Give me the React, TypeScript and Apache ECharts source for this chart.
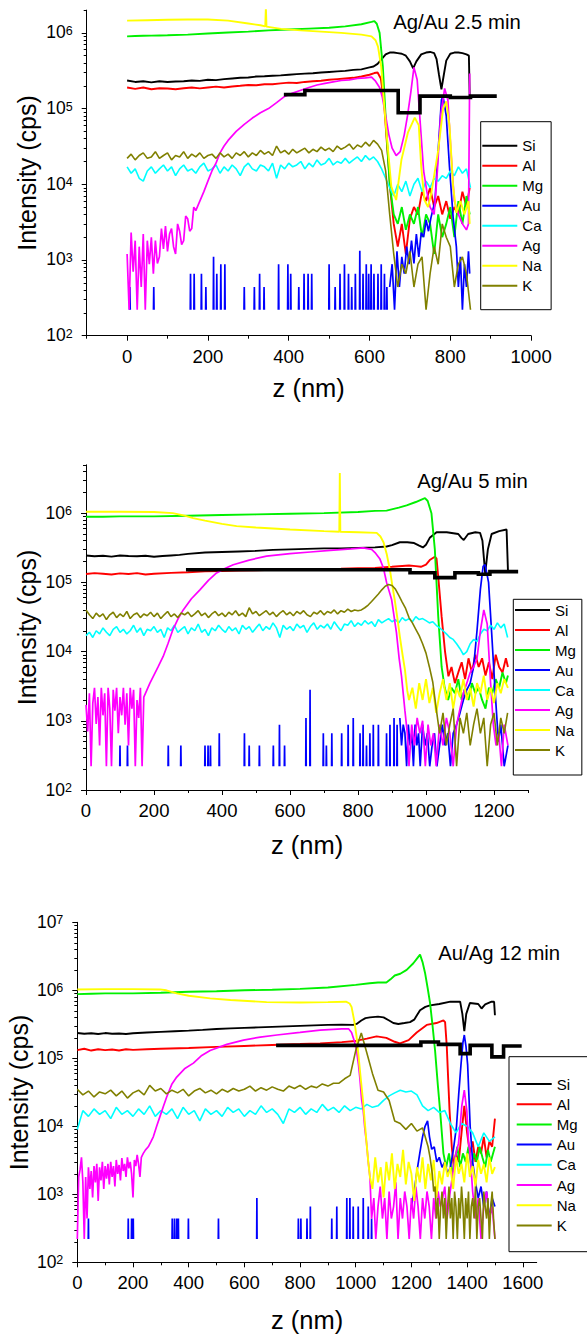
import React, { useEffect, useRef } from 'react';
import * as echarts from 'echarts';

type Pt = [number, number];

const FONT = '"Liberation Sans", Arial, Helvetica, sans-serif';
const NAMES = ['Si', 'Al', 'Mg', 'Au', 'Ca', 'Ag', 'Na', 'K'];
const COLORS: Record<string, string> = {
  Si: '#000000', Al: '#ff0000', Mg: '#00f000', Au: '#0000ff',
  Ca: '#00ffff', Ag: '#ff00ff', Na: '#ffff00', K: '#808000',
};
const FLOOR = 220; // one count level

const TITLES = ['Ag/Au 2.5 min', 'Ag/Au 5 min', 'Au/Ag 12 min'];
const X_NAME = 'z (nm)';
const Y_NAME = 'Intensity (cps)';

const X_MIN = [-100, 0, 0];
const X_MAX = [1000, 1300, 1650];
const Y_MAX = [2e6, 5e6, 1e7];
const X_MAJOR = [
  [0, 200, 400, 600, 800, 1000],
  [0, 200, 400, 600, 800, 1000, 1200],
  [0, 200, 400, 600, 800, 1000, 1200, 1400, 1600],
];
const X_MINOR = [
  [-100, 100, 300, 500, 700, 900],
  [100, 300, 500, 700, 900, 1100, 1300],
  [100, 300, 500, 700, 900, 1100, 1300, 1500],
];
const Y_DECADES = [1e2, 1e3, 1e4, 1e5, 1e6, 1e7];
const Y_MANTISSAS = [2, 3, 4, 5, 6, 7, 8, 9];

// ---------------- Panel 1 : Ag/Au 2.5 min ----------------
const Z1 = [0,10,20,30,40,50,60,70,80,90,100,110,120,130,140,150,160,170,180,190,200,210,220,230,240,250,260,270,280,290,300,310,320,330,340,350,360,370,380,390,400,410,420,430,440,450,460,470,480,490,500,510,520,530,540,550,560,570,580,590,600,610,620,630,640,650,660,670,680,690,700,710,720,730,740,750,760,770,780,790,800,810,820,830,840,850];
const CA1 = [1.7e4,1.4e4,1.6e4,1.2e4,1.1e4,1.5e4,1.7e4,1.4e4,1.6e4,1.8e4,
  1.5e4,1.7e4,1.3e4,1.6e4,1.8e4,1.5e4,1.6e4,1.4e4,1.7e4,1.9e4,
  1.5e4,1.6e4,1.8e4,1.4e4,1.7e4,1.5e4,1.8e4,1.6e4,1.3e4,1.7e4,
  1.9e4,1.6e4,1.5e4,1.8e4,1.7e4,1.5e4,1.9e4,1.2e4,1.8e4,1.6e4,
  1.9e4,1.7e4,1.8e4,2.0e4,1.6e4,1.9e4,1.7e4,2.1e4,1.8e4,1.9e4,
  2.2e4,1.8e4,2.0e4,1.9e4,2.2e4,1.9e4,2.1e4,2.3e4,2.0e4,2.4e4,
  2.1e4,2.3e4,2.0e4,1.6e4,1.2e4,9e3,7e3,1.0e4,8e3,1.1e4,
  7e3,1.0e4,1.2e4,8e3,1.1e4,9e3,1.2e4,1.1e4,1.3e4,1.2e4,
  1.5e4,1.3e4,1.7e4,1.4e4,1.6e4,9e3];
const K1 = [2.2e4,2.5e4,2.1e4,2.4e4,2.6e4,2.2e4,2.3e4,2.7e4,2.2e4,2.4e4,
  2.6e4,2.1e4,2.4e4,2.3e4,2.7e4,2.2e4,2.5e4,2.3e4,2.6e4,2.2e4,
  2.4e4,2.5e4,2.2e4,2.6e4,2.3e4,2.5e4,2.2e4,2.6e4,2.4e4,2.7e4,
  2.3e4,2.6e4,2.4e4,2.8e4,2.5e4,2.7e4,2.4e4,3.2e4,2.6e4,2.8e4,
  2.5e4,2.9e4,2.6e4,2.8e4,3.0e4,2.6e4,2.9e4,2.7e4,3.1e4,2.8e4,
  3.0e4,2.7e4,3.2e4,2.9e4,3.1e4,3.4e4,2.9e4,3.3e4,3.1e4,3.6e4,
  3.2e4,3.8e4,3.4e4,2.8e4,1.5e4,4e3,1.2e3,440,880,660,
  1.3e3,440,880,1.1e3,220,660,1.5e3,880,3e3,2e3,
  1.5e3,440,880,1.1e3,660,220];
const SI1: Pt[] = [[0,2.35e5],[20,2.25e5],[40,2.3e5],[60,2.22e5],[80,2.3e5],[100,2.25e5],[120,2.28e5],[140,2.3e5],[160,2.35e5],[180,2.32e5],[200,2.4e5],[220,2.38e5],[240,2.45e5],[260,2.5e5],[280,2.55e5],[300,2.58e5],[320,2.65e5],[340,2.68e5],[360,2.72e5],[380,2.75e5],[400,2.8e5],[420,2.85e5],[440,2.9e5],[460,2.93e5],[480,3.0e5],[500,3.05e5],[520,3.1e5],[540,3.15e5],[560,3.25e5],[580,3.3e5],[600,3.5e5],[610,3.6e5],[620,3.9e5],[630,4.5e5],[640,5.2e5],[650,5.5e5],[660,5.5e5],[670,5.4e5],[680,5.3e5],[690,5.0e5],[700,4.2e5],[708,3.4e5],[716,4.2e5],[728,5.2e5],[740,5.5e5],[750,5.6e5],[760,5.4e5],[766,4.5e5],[772,2.8e5],[778,1.8e5],[784,2.8e5],[790,4.3e5],[800,5.3e5],[810,5.5e5],[820,5.5e5],[830,5.4e5],[840,5.2e5],[846,5.0e5],[848,1.45e5]];
const AL1: Pt[] = [[0,1.9e5],[20,1.82e5],[40,1.9e5],[60,1.8e5],[80,1.86e5],[100,1.84e5],[120,1.8e5],[140,1.86e5],[160,1.9e5],[180,1.85e5],[200,1.9e5],[220,1.95e5],[240,1.9e5],[260,1.96e5],[280,2.0e5],[300,2.05e5],[320,2.03e5],[340,2.1e5],[360,2.1e5],[380,2.15e5],[400,2.2e5],[420,2.18e5],[440,2.25e5],[460,2.3e5],[480,2.33e5],[500,2.4e5],[520,2.45e5],[540,2.5e5],[560,2.55e5],[580,2.65e5],[600,2.8e5],[612,2.95e5],[620,3.0e5],[628,2.5e5],[636,1.2e5],[644,3e4],[652,8e3],[660,3e3],[670,1.5e3],[680,3e3],[690,1.2e3],[700,3.5e3],[710,5e3],[720,4e3],[730,8e3],[740,6e3],[750,9e3],[760,5e3],[770,7e3],[780,4e3],[790,6e3],[800,3.5e3],[810,5e3],[820,4e3],[830,8e3],[840,5e3],[848,9e3]];
const MG1: Pt[] = [[0,9e5],[20,9.1e5],[40,9.15e5],[60,9.2e5],[80,9.25e5],[100,9.3e5],[150,9.5e5],[200,9.8e5],[250,1.01e6],[300,1.04e6],[350,1.08e6],[400,1.11e6],[450,1.14e6],[500,1.17e6],[540,1.22e6],[580,1.3e6],[605,1.4e6],[612,1.43e6],[618,1.32e6],[625,1.0e6],[633,3.6e5],[642,5e4],[650,1e4],[660,4e3],[670,3e3],[680,5e3],[690,2.5e3],[700,4e3],[710,3e3],[720,5e3],[730,2e3],[740,4e3],[750,3e3],[760,1.2e3],[770,4e3],[780,2e3],[790,3e3],[800,5e3],[810,2e3],[820,6e3],[830,3e3],[840,7e3],[848,4e3]];
const NA1: Pt[] = [[0,1.45e6],[50,1.47e6],[100,1.49e6],[150,1.5e6],[200,1.5e6],[250,1.45e6],[300,1.33e6],[330,1.26e6],[342,1.22e6],[343.5,2.2e6],[345,1.21e6],[381,1.13e6],[430,1.08e6],[480,1.04e6],[530,1.0e6],[580,9.5e5],[605,9e5],[615,8e5],[621,6.6e5],[629,3.6e5],[637,1e5],[646,2.8e4],[654,9.3e3],[666,6.2e3],[679,2.1e4],[695,4.8e4],[712,7.6e4],[722,6e4],[728,1.7e4],[736,6.2e3],[745,5e3],[753,7.6e3],[770,2.8e4],[782,9.8e4],[790,1.25e5],[798,6e4],[807,9.3e3],[815,4.2e3],[825,6e3],[835,4e3],[845,6e3],[848,3e3]];
const AG1: Pt[] = [[0,1.2e3],[5,220],[10,2.3e3],[15,700],[20,1.8e3],[25,220],[30,1.5e3],[35,440],[40,2.2e3],[45,220],[50,1.8e3],[55,880],[60,2e3],[65,660],[70,1.8e3],[75,900],[80,1.1e3],[85,2.6e3],[90,1.4e3],[95,2.8e3],[100,1.3e3],[105,2.2e3],[110,2.6e3],[115,1.5e3],[120,1.2e3],[125,3e3],[130,2.4e3],[135,1.6e3],[140,1.8e3],[145,3.8e3],[150,3.5e3],[155,2.4e3],[160,2.6e3],[165,5e3],[170,4.5e3],[180,6e3],[190,8e3],[200,1.1e4],[210,1.5e4],[220,1.9e4],[230,2.6e4],[240,3.2e4],[250,3.8e4],[270,5e4],[290,6.2e4],[310,7.5e4],[330,8.8e4],[350,1.0e5],[370,1.2e5],[390,1.45e5],[410,1.6e5],[430,1.75e5],[450,1.9e5],[470,2.05e5],[490,2.15e5],[510,2.25e5],[530,2.35e5],[550,2.4e5],[570,2.5e5],[590,2.55e5],[605,2.6e5],[615,2.3e5],[625,1.9e5],[632,1.4e5],[640,8e4],[648,4.5e4],[656,3e4],[666,2.4e4],[676,2.7e4],[686,4.5e4],[694,8e4],[702,1.6e5],[710,3.5e5],[718,2.4e5],[726,6e4],[734,1.5e4],[742,8e3],[750,5e3],[760,4e3],[768,1.5e4],[776,8e4],[786,1.85e5],[794,1.3e5],[802,2.5e4],[810,6e3],[820,4e3],[830,3e3],[840,2.5e3],[845,3e3],[848,2.9e5]];
const AU1_SPIKES: Pt[] = [[7,440],[66,440],[157,660],[166,660],[184,660],[195,440],[214,1100],[222,660],[232,880],[242,880],[290,440],[315,440],[328,660],[339,440],[375,880],[398,880],[405,660],[425,440],[438,660],[448,660],[457,660],[500,880],[515,440],[527,660],[538,880],[548,660],[556,440],[565,660],[576,1320],[584,660],[592,880],[598,660],[604,880],[611,660],[621,660],[629,880],[637,660],[643,440]];
const AU1_TAIL: Pt[] = [[650,440],[656,880],[662,220],[668,1.3e3],[674,440],[680,1.1e3],[686,660],[692,1.5e3],[698,880],[704,1.8e3],[710,900],[716,2.2e3],[722,1.1e3],[728,2.3e3],[734,2e3],[740,3.4e3],[746,2.4e3],[752,3.6e3],[762,6e3],[770,2.8e4],[778,1.3e5],[782,1.45e5],[790,8e4],[798,1.7e4],[807,3.7e3],[815,1.5e3],[820,440],[825,1.1e3],[830,220],[835,880],[840,440],[845,1.3e3],[848,660]];
const THICK1: Pt[] = [[388,1.53e5],[440,1.53e5],[440,1.73e5],[671,1.73e5],[671,8.8e4],[725,8.8e4],[725,1.46e5],[800,1.46e5],[800,1.4e5],[850,1.4e5],[850,1.46e5],[915,1.46e5]];

// ---------------- Panel 2 : Ag/Au 5 min ----------------
const Z2 = [0,10,20,30,40,50,60,70,80,90,100,110,120,130,140,150,160,170,180,190,200,210,220,230,240,250,260,270,280,290,300,310,320,330,340,350,360,370,380,390,400,410,420,430,440,450,460,470,480,490,500,510,520,530,540,550,560,570,580,590,600,610,620,630,640,650,660,670,680,690,700,710,720,730,740,750,760,770,780,790,800,810,820,830,840,850,860,870,880,890,900,910,920,930,940,950,960,970,980,990,1000,1010,1020,1030,1040,1050,1060,1070,1080,1090,1100,1110,1120,1130,1140,1150,1160,1170,1180,1190,1200,1210,1220,1230,1240];
const CA2 = [1.7e4,1.9e4,1.6e4,2.0e4,1.8e4,2.2e4,1.9e4,1.7e4,2.1e4,2.3e4,
  1.9e4,2.1e4,1.8e4,2.0e4,2.4e4,1.9e4,2.2e4,1.7e4,2.1e4,2.0e4,
  2.3e4,1.9e4,2.1e4,1.6e4,2.2e4,2.0e4,2.4e4,1.9e4,2.1e4,2.3e4,
  1.8e4,2.2e4,2.0e4,2.5e4,1.9e4,2.1e4,1.7e4,2.2e4,2.0e4,2.4e4,
  2.1e4,1.9e4,2.3e4,2.0e4,2.2e4,1.8e4,2.4e4,2.1e4,2.3e4,1.9e4,
  2.2e4,2.5e4,2.0e4,2.3e4,2.1e4,2.6e4,2.2e4,1.6e4,2.4e4,2.1e4,
  2.3e4,2.0e4,2.5e4,2.2e4,2.4e4,1.9e4,2.3e4,2.6e4,2.1e4,2.4e4,
  2.2e4,2.5e4,2.1e4,2.7e4,2.3e4,2.0e4,2.5e4,2.4e4,2.8e4,2.3e4,
  2.6e4,2.4e4,2.8e4,2.5e4,2.7e4,2.3e4,2.9e4,2.6e4,2.8e4,3.0e4,
  2.7e4,2.9e4,2.6e4,3.1e4,2.8e4,3.0e4,2.7e4,3.2e4,2.9e4,3.0e4,
  2.8e4,2.6e4,2.7e4,2.4e4,2.2e4,2.0e4,1.8e4,1.6e4,1.5e4,1.3e4,
  1.1e4,9e3,1.0e4,1.3e4,1.5e4,1.4e4,1.8e4,2.1e4,2.0e4,2.4e4,
  2.1e4,2.6e4,2.2e4,2.5e4,1.6e4];
const K2 = [4.0e4,3.4e4,3.0e4,3.6e4,3.2e4,3.5e4,2.9e4,3.4e4,3.7e4,3.1e4,
  3.5e4,3.2e4,3.8e4,3.0e4,3.4e4,3.6e4,3.1e4,3.5e4,3.3e4,3.7e4,
  3.2e4,3.6e4,3.0e4,3.4e4,3.8e4,3.2e4,3.5e4,3.1e4,3.6e4,3.4e4,
  3.7e4,3.2e4,3.5e4,3.9e4,3.3e4,3.6e4,3.1e4,3.5e4,3.8e4,3.3e4,
  3.6e4,3.2e4,3.7e4,3.4e4,3.9e4,3.3e4,3.6e4,3.2e4,4.3e4,3.5e4,
  3.8e4,3.3e4,3.6e4,3.9e4,3.4e4,3.7e4,3.2e4,3.6e4,3.9e4,3.4e4,
  3.7e4,3.3e4,3.8e4,3.5e4,3.9e4,3.4e4,3.2e4,3.7e4,3.5e4,3.9e4,
  3.4e4,3.8e4,3.6e4,4.0e4,3.5e4,3.9e4,3.7e4,4.1e4,3.8e4,4.0e4,
  3.9e4,4.0e4,4.3e4,4.7e4,5.3e4,6.0e4,6.8e4,7.8e4,8.8e4,9.3e4,
  9.0e4,8.0e4,6.5e4,5.2e4,4.2e4,3.1e4,2.6e4,2.1e4,1.7e4,1.3e4,
  9.5e3,6e3,3.6e3,1.5e3,660,1.3e3,440,880,1.5e3,220,
  1.1e3,660,1.3e3,440,880,1.5e3,660,1.1e3,220,880,
  1.3e3,440,1.1e3,660,1.3e3];
const SI2: Pt[] = [[0,2.45e5],[25,2.38e5],[50,2.42e5],[75,2.36e5],[100,2.45e5],[125,2.4e5],[150,2.38e5],[175,2.42e5],[200,2.35e5],[225,2.4e5],[250,2.45e5],[275,2.5e5],[300,2.58e5],[350,2.7e5],[400,2.75e5],[450,2.8e5],[500,2.85e5],[550,2.95e5],[600,3.0e5],[650,3.05e5],[700,3.1e5],[750,3.1e5],[800,3.15e5],[850,3.2e5],[884,3.3e5],[900,3.45e5],[923,3.8e5],[945,3.8e5],[965,3.7e5],[980,3.4e5],[991,3.2e5],[1000,3.5e5],[1011,4.4e5],[1031,5.3e5],[1061,5.3e5],[1095,5.0e5],[1104,4.4e5],[1111,4.1e5],[1124,5.0e5],[1145,5.3e5],[1159,5.2e5],[1166,4e5],[1174,1.35e5],[1182,3e5],[1193,5.0e5],[1215,5.5e5],[1237,5.8e5],[1241,1.5e5]];
const AL2: Pt[] = [[0,1.32e5],[25,1.36e5],[50,1.33e5],[75,1.3e5],[100,1.35e5],[125,1.32e5],[150,1.36e5],[175,1.3e5],[200,1.33e5],[250,1.37e5],[300,1.4e5],[350,1.44e5],[400,1.46e5],[450,1.48e5],[500,1.5e5],[550,1.52e5],[600,1.53e5],[650,1.55e5],[700,1.55e5],[750,1.57e5],[800,1.6e5],[850,1.62e5],[900,1.68e5],[950,1.75e5],[970,1.72e5],[985,1.68e5],[1000,1.8e5],[1011,2.1e5],[1026,2.35e5],[1031,2.2e5],[1036,1.2e5],[1046,3.2e4],[1056,1e4],[1066,4.4e3],[1075,6e3],[1085,3.5e3],[1095,5e3],[1105,7e3],[1115,4e3],[1125,8e3],[1135,5e3],[1145,9e3],[1155,6e3],[1165,8e3],[1175,4.5e3],[1185,7e3],[1195,4e3],[1205,9e3],[1215,6e3],[1225,5e3],[1235,8e3],[1241,6e3]];
const MG2: Pt[] = [[0,8.9e5],[50,8.9e5],[100,9.0e5],[200,9.0e5],[300,9.2e5],[400,9.4e5],[500,9.6e5],[600,9.8e5],[700,1.0e6],[800,1.04e6],[850,1.08e6],[884,1.09e6],[920,1.2e6],[943,1.3e6],[970,1.45e6],[990,1.6e6],[997,1.65e6],[1005,1.5e6],[1016,1.0e6],[1026,3e5],[1036,3.2e4],[1046,6e3],[1055,3e3],[1065,2e3],[1075,3e3],[1085,2.5e3],[1095,4e3],[1105,2e3],[1115,3e3],[1125,2e3],[1135,3.5e3],[1145,2.5e3],[1155,3e3],[1165,2e3],[1175,1.5e3],[1185,3e3],[1195,2.5e3],[1205,4e3],[1215,3e3],[1225,5e3],[1235,3.5e3],[1241,4.5e3]];
const NA2: Pt[] = [[0,1.05e6],[100,1.05e6],[200,1.04e6],[255,1.0e6],[290,9.2e5],[315,8.5e5],[350,7.8e5],[400,7e5],[443,6.5e5],[500,6.2e5],[600,5.8e5],[700,5.5e5],[745,5.4e5],[746.5,3.8e6],[748,5.4e5],[800,5.3e5],[855,5.2e5],[866,4.6e5],[875,3.8e5],[885,2.5e5],[894,1.5e5],[901,9e4],[908,5.6e4],[916,3e4],[923,1.66e4],[931,9e3],[938,5.5e3],[945,2.7e3],[950,2e3],[960,3e3],[970,1.5e3],[980,3.5e3],[990,2e3],[1000,4e3],[1010,1.8e3],[1020,3e3],[1030,1.3e3],[1040,2.5e3],[1050,4e3],[1060,2e3],[1070,3.5e3],[1080,1.5e3],[1090,3e3],[1100,2.2e3],[1110,4e3],[1120,2e3],[1130,3e3],[1140,1.6e3],[1150,3.5e3],[1160,2.5e3],[1170,4.5e3],[1180,2e3],[1190,3e3],[1200,1.8e3],[1210,3.5e3],[1220,2.5e3],[1230,4e3],[1241,3e3]];
const AG2: Pt[] = [[0,1.7e3],[5,700],[10,2.5e3],[15,220],[20,1.8e3],[25,3e3],[30,900],[35,2.2e3],[40,440],[45,3e3],[50,1.2e3],[55,2.5e3],[60,220],[65,3e3],[70,1.5e3],[75,220],[80,2.8e3],[85,1.4e3],[90,3e3],[95,660],[100,2.2e3],[105,1.2e3],[110,3e3],[115,880],[120,2.5e3],[125,440],[130,3e3],[135,1.5e3],[140,2.8e3],[145,220],[150,2e3],[155,1.1e3],[160,3e3],[165,220],[170,2.2e3],[178,2.7e3],[188,3.5e3],[198,4.4e3],[212,6e3],[227,8.5e3],[241,1.3e4],[256,2.1e4],[271,3e4],[286,4e4],[310,5.8e4],[335,7.8e4],[360,1.07e5],[384,1.37e5],[410,1.6e5],[433,1.8e5],[480,2.1e5],[531,2.4e5],[600,2.6e5],[660,2.75e5],[718,2.9e5],[780,3.05e5],[815,3.15e5],[840,3.0e5],[850,2.7e5],[864,2.2e5],[875,1.6e5],[884,1.0e5],[899,5.6e4],[913,1.9e4],[921,8e3],[928,4.4e3],[938,1.4e3],[945,660],[950,220],[958,880],[966,440],[974,1.1e3],[982,660],[990,1e3],[998,220],[1006,880],[1014,440],[1022,660],[1030,220],[1040,880],[1050,440],[1060,1.1e3],[1070,660],[1080,220],[1090,880],[1100,1.5e3],[1110,2.5e3],[1120,3.5e3],[1130,5e3],[1140,6e3],[1150,8e3],[1160,2e4],[1170,4e4],[1180,2.5e4],[1190,3.5e3],[1198,880],[1206,440],[1214,660],[1222,220],[1230,880],[1241,440]];
const AU2_SPIKES: Pt[] = [[100,440],[122,440],[242,440],[279,440],[350,440],[359,440],[366,440],[392,660],[466,660],[480,440],[510,440],[551,440],[569,880],[584,440],[647,1100],[659,2800],[698,660],[707,440],[723,660],[752,660],[771,880],[786,1100],[806,660],[815,880],[825,440],[835,660],[845,880],[860,880],[884,660],[894,880],[906,1100],[915,880]];
const AU2_TAIL: Pt[] = [[923,1100],[928,440],[933,880],[938,660],[943,220],[948,880],[953,440],[958,660],[963,220],[968,880],[973,440],[978,660],[983,220],[990,880],[997,440],[1004,660],[1011,220],[1018,440],[1025,660],[1032,220],[1040,440],[1048,880],[1056,440],[1064,660],[1072,220],[1080,660],[1090,880],[1100,1.3e3],[1110,2e3],[1120,2.8e3],[1130,3.5e3],[1140,6e3],[1150,2e4],[1160,8e4],[1168,1.7e5],[1174,1.8e5],[1184,1e5],[1193,1.9e4],[1203,2.8e3],[1213,500],[1220,880],[1230,220],[1241,440]];
const THICK2: Pt[] = [[294,1.52e5],[953,1.52e5],[953,1.38e5],[1026,1.38e5],[1026,1.17e5],[1085,1.17e5],[1085,1.38e5],[1154,1.38e5],[1154,1.31e5],[1188,1.31e5],[1188,1.43e5],[1271,1.43e5]];

// ---------------- Panel 3 : Au/Ag 12 min ----------------
const Z3 = [0,20,40,60,80,100,120,140,160,180,200,220,240,260,280,300,320,340,360,380,400,420,440,460,480,500,520,540,560,580,600,620,640,660,680,700,720,740,760,780,800,820,840,860,880,900,920,940,960,980,1000,1020,1040,1060,1080,1100,1120,1140,1160,1180,1200,1220,1240,1260,1280,1300,1320,1340,1360,1380,1400,1420,1440,1460,1480,1500];
const CA3 = [9e3,1.7e4,1.4e4,1.8e4,1.5e4,1.7e4,1.3e4,1.9e4,1.5e4,1.7e4,
  1.4e4,1.8e4,1.5e4,2.0e4,1.4e4,1.7e4,1.5e4,1.8e4,1.3e4,1.9e4,
  1.5e4,1.7e4,1.2e4,1.8e4,1.5e4,1.7e4,1.4e4,1.9e4,1.6e4,1.8e4,
  1.4e4,1.7e4,1.5e4,2.0e4,1.6e4,1.8e4,1.5e4,1.1e4,1.8e4,1.6e4,
  1.9e4,1.5e4,1.8e4,1.6e4,2.1e4,1.7e4,1.9e4,1.6e4,2.0e4,1.7e4,
  1.9e4,1.8e4,2.1e4,1.9e4,2.0e4,2.4e4,2.8e4,3.1e4,3.4e4,3.2e4,
  3.3e4,2.9e4,2.0e4,1.7e4,1.9e4,1.6e4,1.7e4,1.1e4,8e3,1.1e4,
  1.0e4,8e3,5e3,8e3,6e3,7e3];
// K3 on Z3 up to 1260 nm, then the noisy floor as pairs
const K3 = [3.5e4,2.9e4,3.3e4,2.7e4,3.2e4,3.0e4,3.4e4,2.8e4,3.3e4,2.6e4,
  3.1e4,3.4e4,2.9e4,4.0e4,3.3e4,3.6e4,3.0e4,3.4e4,3.1e4,3.5e4,
  2.8e4,3.3e4,3.6e4,3.1e4,3.4e4,3.0e4,3.5e4,3.2e4,3.6e4,3.3e4,
  3.5e4,3.9e4,3.3e4,3.7e4,3.4e4,3.8e4,3.5e4,3.3e4,3.9e4,3.6e4,
  4.0e4,3.5e4,3.9e4,3.7e4,4.2e4,3.9e4,4.3e4,4.3e4,5.0e4,5.6e4,
  1.3e5,2.35e5,1.2e5,6e4,3.4e4,3.2e4,2.4e4,1.2e4,1.1e4,9e3,
  1.1e4,8.5e3,9.5e3,5e3];
const K3_TAIL: Pt[] = [[1267,3.5e3],[1275,2e3],[1280,1.1e3],[1285,1.3e3],[1290,440],[1295,880],[1300,220],[1305,660],[1310,1.1e3],[1315,440],[1320,880],[1325,220],[1330,660],[1335,1.3e3],[1340,440],[1345,880],[1350,220],[1355,1.1e3],[1360,660],[1365,220],[1370,880],[1375,440],[1380,1.3e3],[1385,660],[1390,220],[1395,880],[1400,440],[1405,1.1e3],[1410,220],[1415,660],[1420,880],[1425,440],[1430,1.3e3],[1435,220],[1440,660],[1445,880],[1450,440],[1455,220],[1460,1.1e3],[1465,660],[1470,440],[1475,880],[1480,220],[1485,660],[1490,1.1e3],[1495,440],[1500,220]];
const SI3: Pt[] = [[0,2.35e5],[25,2.3e5],[50,2.33e5],[75,2.28e5],[100,2.35e5],[125,2.3e5],[150,2.32e5],[175,2.28e5],[200,2.34e5],[250,2.4e5],[300,2.45e5],[350,2.5e5],[400,2.55e5],[450,2.62e5],[500,2.7e5],[550,2.75e5],[600,2.8e5],[650,2.85e5],[700,2.9e5],[750,2.95e5],[800,3.0e5],[850,3.05e5],[900,3.1e5],[950,3.12e5],[991,3.1e5],[1003,3.2e5],[1020,3.6e5],[1035,3.9e5],[1051,4.0e5],[1080,4.1e5],[1100,4.0e5],[1120,3.6e5],[1135,3.3e5],[1153,3.2e5],[1175,3.3e5],[1195,3.4e5],[1210,3.7e5],[1231,5.1e5],[1250,5.7e5],[1267,6e5],[1300,6.3e5],[1340,6.8e5],[1375,6.8e5],[1383,4.5e5],[1390,2.5e5],[1397,4.5e5],[1410,6.5e5],[1440,6.3e5],[1452,5.4e5],[1465,6.2e5],[1488,6.8e5],[1497,6.8e5],[1500,4.3e5]];
const AL3: Pt[] = [[0,1.32e5],[25,1.38e5],[50,1.3e5],[75,1.36e5],[100,1.32e5],[125,1.35e5],[150,1.3e5],[175,1.36e5],[200,1.33e5],[250,1.36e5],[300,1.38e5],[400,1.42e5],[500,1.47e5],[600,1.52e5],[700,1.57e5],[800,1.62e5],[872,1.66e5],[950,1.73e5],[1000,1.8e5],[1040,1.95e5],[1075,2.1e5],[1110,2.0e5],[1140,1.75e5],[1159,1.66e5],[1190,1.85e5],[1219,2.4e5],[1255,3.1e5],[1290,3.3e5],[1315,3.6e5],[1321,3.4e5],[1327,1.5e5],[1332,5e4],[1337,1.7e4],[1345,5e3],[1352,2.5e3],[1360,4e3],[1370,3e3],[1380,8e3],[1390,2e4],[1400,8e3],[1410,4e3],[1420,6e3],[1430,3e3],[1440,5e3],[1450,4e3],[1460,7e3],[1470,3.5e3],[1480,6e3],[1490,5e3],[1500,1.3e4]];
const MG3: Pt[] = [[0,8.8e5],[50,8.9e5],[100,9.0e5],[200,9.0e5],[300,9.2e5],[400,9.5e5],[500,9.7e5],[600,1.0e6],[700,1.02e6],[800,1.05e6],[900,1.1e6],[1000,1.2e6],[1050,1.27e6],[1080,1.3e6],[1110,1.3e6],[1125,1.45e6],[1140,1.65e6],[1160,1.75e6],[1183,2.0e6],[1207,2.5e6],[1222,3.0e6],[1231,3.35e6],[1240,2.6e6],[1249,1.8e6],[1258,1.1e6],[1267,6.5e5],[1276,3e5],[1285,1.3e5],[1295,4e4],[1303,1.7e4],[1315,4e3],[1325,2.5e3],[1335,4e3],[1345,2e3],[1355,3e3],[1365,5e3],[1375,2.5e3],[1385,4e3],[1395,3e3],[1405,5e3],[1415,2.5e3],[1425,4e3],[1435,3e3],[1445,5e3],[1455,3.5e3],[1465,2.5e3],[1475,4.5e3],[1485,3e3],[1500,5e3]];
const NA3: Pt[] = [[0,1.03e6],[100,1.04e6],[200,1.04e6],[297,1.03e6],[320,1.0e6],[357,9e5],[400,8.3e5],[477,7.6e5],[550,7.2e5],[680,6.7e5],[800,6.6e5],[900,6.7e5],[965,6.8e5],[978,6.4e5],[985,5.7e5],[995,3.5e5],[1003,2.1e5],[1010,1.1e5],[1015,6.7e4],[1022,3.5e4],[1027,2.2e4],[1033,1.1e4],[1039,5.6e3],[1045,3e3],[1051,1.8e3],[1060,1.2e3],[1070,3.5e3],[1080,1.5e3],[1090,2.5e3],[1100,900],[1110,3e3],[1120,1.6e3],[1130,4e3],[1140,1.2e3],[1150,2.8e3],[1160,1.8e3],[1170,4.5e3],[1180,1.4e3],[1190,3e3],[1200,2e3],[1210,800],[1220,2.5e3],[1230,1.5e3],[1240,3.5e3],[1250,1.2e3],[1260,2.8e3],[1270,1.6e3],[1280,3.2e3],[1290,900],[1300,2.2e3],[1310,1.4e3],[1320,3e3],[1330,1.8e3],[1340,2.5e3],[1350,1.2e3],[1360,3.5e3],[1370,2e3],[1380,2.8e3],[1390,1.5e3],[1400,4e3],[1410,1.8e3],[1420,2.6e3],[1430,1.3e3],[1440,3.2e3],[1450,2e3],[1460,2.8e3],[1470,1.5e3],[1480,3.5e3],[1490,2e3],[1500,2.5e3]];
const AG3: Pt[] = [[0,220],[5,1.8e3],[10,2.3e3],[15,3.5e3],[20,1.5e3],[25,220],[30,1.8e3],[35,440],[40,2.5e3],[45,1.2e3],[50,2.2e3],[55,900],[60,2.6e3],[65,1.5e3],[70,2.8e3],[75,800],[80,2.5e3],[85,1.6e3],[90,3e3],[95,1.2e3],[100,2.6e3],[105,1.7e3],[110,2.8e3],[115,1.4e3],[120,3e3],[125,1.8e3],[130,2.6e3],[135,1.3e3],[140,3.2e3],[145,2e3],[150,2.7e3],[155,1.6e3],[160,3.4e3],[165,2.2e3],[170,2.8e3],[175,1.8e3],[180,3.5e3],[185,2.4e3],[190,3e3],[195,2e3],[200,900],[205,3.2e3],[210,2.6e3],[215,3.8e3],[220,2.8e3],[225,1.8e3],[230,3.5e3],[237,4e3],[245,4.5e3],[255,5e3],[265,6e3],[273,7e3],[285,1e4],[297,1.4e4],[310,2e4],[321,2.7e4],[340,4.2e4],[357,5.3e4],[385,7e4],[417,8.5e4],[447,1.1e5],[477,1.3e5],[537,1.6e5],[597,1.85e5],[657,2.05e5],[717,2.2e5],[800,2.4e5],[872,2.6e5],[950,2.7e5],[975,2.7e5],[985,2.4e5],[995,1.8e5],[1003,1.3e5],[1010,8e4],[1015,5e4],[1021,2.5e4],[1027,1.7e4],[1033,9e3],[1039,5.6e3],[1045,3e3],[1051,1.8e3],[1057,440],[1065,880],[1072,220],[1080,660],[1088,1.3e3],[1096,440],[1104,880],[1112,220],[1120,1.1e3],[1128,440],[1136,660],[1144,1.5e3],[1152,220],[1160,880],[1168,440],[1176,1.1e3],[1184,660],[1192,220],[1200,880],[1208,440],[1216,1.3e3],[1224,660],[1232,220],[1240,880],[1248,440],[1256,1.1e3],[1264,660],[1272,220],[1280,880],[1288,440],[1296,1.1e3],[1304,660],[1312,880],[1320,1.3e3],[1328,440],[1336,880],[1344,1.5e3],[1352,2.5e3],[1360,4e3],[1369,5.6e3],[1375,1e4],[1381,2e4],[1390,3.4e4],[1399,1.7e4],[1405,6e3],[1411,3.8e3],[1420,1.1e3],[1430,440],[1440,880],[1450,220],[1460,660],[1470,1.1e3],[1480,440],[1490,660],[1500,220]];
const AU3_SPIKES: Pt[] = [[40,440],[183,440],[195,440],[201,440],[341,440],[349,440],[357,440],[363,440],[399,440],[507,440],[645,880],[794,440],[803,440],[825,440],[837,660],[914,440],[932,660],[968,880],[979,880],[991,660],[1009,660],[1027,880],[1045,660],[1057,440]];
const AU3_TAIL: Pt[] = [[1200,660],[1210,1.1e3],[1220,2.2e3],[1230,4e3],[1240,7e3],[1249,1e4],[1258,1.2e4],[1265,7e3],[1273,4.6e3],[1282,5e3],[1291,3e3],[1300,3.5e3],[1310,2.5e3],[1320,3e3],[1330,2e3],[1340,2.5e3],[1351,4.6e3],[1362,1e4],[1370,3e4],[1378,8e4],[1385,1.7e5],[1390,2.2e5],[1396,1.5e5],[1402,8e4],[1411,1e4],[1420,3e3],[1430,1.5e3],[1440,880],[1450,1.3e3],[1460,660],[1470,1.1e3],[1480,440],[1490,880],[1500,660]];
const THICK3: Pt[] = [[714,1.55e5],[1234,1.55e5],[1234,1.74e5],[1297,1.74e5],[1297,1.6e5],[1375,1.6e5],[1375,1.17e5],[1411,1.17e5],[1411,1.55e5],[1489,1.55e5],[1489,1.05e5],[1531,1.05e5],[1531,1.52e5],[1596,1.52e5]];

// ---------------- layout ----------------
const GRIDS = [
  { left: 86.7, top: 10.1, width: 444.4, height: 325.6 },
  { left: 86, top: 464.8, width: 442, height: 325.2 },
  { left: 77.3, top: 922.3, width: 459.4, height: 340 },
];
const LEGENDS = [
  { left: 480.7, top: 121.7, padding: [14, 8, 14, 1.6], itemGap: 0 },
  { left: 513.3, top: 599.3, padding: [0.7, 6, 15, 1.7], itemGap: 0 },
  { left: 509, top: 1056.7, padding: [17.3, 12.5, 16.3, 7.7], itemGap: 0.2 },
];
const TITLE_POS = [[393.3, 21.7], [417.3, 480.7], [438.3, 953.3]];
const YNAME_POS = [[27, 173], [27, 627.5], [19, 1092.5]];
const XNAME_POS = [[308.7, 388], [307, 845], [307, 1320]];
const LINE_W: Record<string, number> = { Si: 1.9, Al: 1.9, Mg: 1.9, Au: 1.7, Ca: 1.6, Ag: 1.7, Na: 1.9, K: 1.6 };

function zip(z: number[], v: number[]): Pt[] {
  return v.map((y, i) => [z[i], y] as Pt);
}

function buildAu(spikes: Pt[], tail: Pt[]): any[] {
  const out: any[] = [];
  spikes.forEach(([z, v]) => {
    out.push([z - 0.7, FLOOR], [z, v], [z + 0.7, FLOOR], [z + 0.8, '-']);
  });
  return out.concat(tail);
}

const PANEL_DATA: Record<string, any[]>[] = [
  { Si: SI1, Al: AL1, Mg: MG1, Au: buildAu(AU1_SPIKES, AU1_TAIL), Ca: zip(Z1, CA1), Ag: AG1, Na: NA1, K: zip(Z1, K1) },
  { Si: SI2, Al: AL2, Mg: MG2, Au: buildAu(AU2_SPIKES, AU2_TAIL), Ca: zip(Z2, CA2), Ag: AG2, Na: NA2, K: zip(Z2, K2) },
  { Si: SI3, Al: AL3, Mg: MG3, Au: buildAu(AU3_SPIKES, AU3_TAIL), Ca: zip(Z3, CA3), Ag: AG3, Na: NA3, K: zip(Z3, K3).concat(K3_TAIL) },
];
const THICK = [THICK1, THICK2, THICK3];

function buildOption() {
  const grid: any[] = [];
  const xAxis: any[] = [];
  const yAxis: any[] = [];
  const series: any[] = [];
  const legend: any[] = [];
  const graphic: any[] = [];

  for (let p = 0; p < 3; p++) {
    grid.push({ ...GRIDS[p], containLabel: false, outerBoundsMode: 'none' });
    const majorY = Y_DECADES.filter((d) => d <= Y_MAX[p] * 1.0001);
    const minorY = Y_DECADES.flatMap((d) => Y_MANTISSAS.map((m) => m * d)).filter((v) => v <= Y_MAX[p] * 1.0001);

    xAxis.push({
      type: 'value', gridIndex: p, min: X_MIN[p], max: X_MAX[p], position: 'bottom',
      axisLine: { show: true, onZero: false, lineStyle: { color: '#000', width: 1 } },
      axisTick: { show: true, length: 5, customValues: X_MAJOR[p], lineStyle: { color: '#000', width: 1 } },
      axisLabel: { show: true, customValues: X_MAJOR[p], formatter: (v: number) => String(v), fontSize: 18.5, color: '#000', fontFamily: FONT, margin: 11 },
      splitLine: { show: false },
    });
    xAxis.push({
      type: 'value', gridIndex: p, min: X_MIN[p], max: X_MAX[p], position: 'bottom',
      axisLine: { show: false, onZero: false },
      axisTick: { show: true, length: 3, customValues: X_MINOR[p], lineStyle: { color: '#000', width: 1 } },
      axisLabel: { show: false },
      splitLine: { show: false },
    });
    yAxis.push({
      type: 'log', logBase: 10, gridIndex: p, min: 100, max: Y_MAX[p], position: 'left',
      axisLine: { show: true, onZero: false, lineStyle: { color: '#000', width: 1 } },
      axisTick: { show: true, length: 5, customValues: majorY, lineStyle: { color: '#000', width: 1 } },
      axisLabel: {
        show: true, customValues: majorY, margin: 14,
        formatter: (v: number) => `{b|10}{s|${Math.round(Math.log10(v))}}`,
        rich: {
          b: { fontSize: 17.5, fontFamily: FONT, color: '#000', lineHeight: 17, padding: [6, 0, 0, 0], verticalAlign: 'bottom' },
          s: { fontSize: 12.5, fontFamily: FONT, color: '#000', lineHeight: 12, verticalAlign: 'top' },
        },
      },
      splitLine: { show: false },
    });
    yAxis.push({
      type: 'log', logBase: 10, gridIndex: p, min: 100, max: Y_MAX[p], position: 'left',
      axisLine: { show: false, onZero: false },
      axisTick: { show: true, length: 3, customValues: minorY, lineStyle: { color: '#000', width: 1 } },
      axisLabel: { show: false },
      splitLine: { show: false },
    });

    const data = PANEL_DATA[p];
    NAMES.forEach((n) => {
      series.push({
        type: 'line', name: n, data: data[n], xAxisIndex: p * 2, yAxisIndex: p * 2,
        showSymbol: false, symbol: 'none', connectNulls: false, animation: false, silent: true,
        lineStyle: { width: LINE_W[n], color: COLORS[n], join: 'bevel' },
        itemStyle: { color: COLORS[n] },
        emphasis: { disabled: true },
      });
    });
    series.push({
      type: 'line', name: 'step', data: THICK[p], xAxisIndex: p * 2, yAxisIndex: p * 2,
      showSymbol: false, symbol: 'none', animation: false, silent: true,
      lineStyle: { width: 3.6, color: '#000', cap: 'butt', join: 'miter' },
      itemStyle: { color: '#000' },
      emphasis: { disabled: true },
    });

    legend.push({
      show: true, orient: 'vertical', left: LEGENDS[p].left, top: LEGENDS[p].top,
      padding: LEGENDS[p].padding, itemGap: LEGENDS[p].itemGap,
      itemWidth: 35, itemHeight: 2, icon: 'rect', selectedMode: false,
      borderColor: '#000', borderWidth: 1, backgroundColor: '#fff',
      textStyle: { fontSize: 15, lineHeight: 20, color: '#000', fontFamily: FONT },
      data: NAMES,
    });

    graphic.push({
      type: 'text', x: TITLE_POS[p][0], y: TITLE_POS[p][1], silent: true,
      style: { text: TITLES[p], fontSize: 20.3, fontFamily: FONT, fill: '#000', align: 'left', verticalAlign: 'middle' },
    });
    graphic.push({
      type: 'text', x: YNAME_POS[p][0], y: YNAME_POS[p][1], rotation: Math.PI / 2, silent: true,
      style: { text: Y_NAME, fontSize: 25, fontFamily: FONT, fill: '#000', align: 'center', verticalAlign: 'middle' },
    });
    graphic.push({
      type: 'text', x: XNAME_POS[p][0], y: XNAME_POS[p][1], silent: true,
      style: { text: X_NAME, fontSize: 25.5, fontFamily: FONT, fill: '#000', align: 'center', verticalAlign: 'middle' },
    });
  }

  return {
    animation: false,
    backgroundColor: '#ffffff',
    textStyle: { fontFamily: FONT },
    grid, xAxis, yAxis, series, legend, graphic,
  };
}

export default function App() {
  const ref = useRef<HTMLDivElement>(null);
  useEffect(() => {
    if (!ref.current) return;
    const chart = echarts.init(ref.current, undefined, { renderer: 'svg' });
    chart.setOption(buildOption() as any);
    return () => chart.dispose();
  }, []);
  return (
    <div
      ref={ref}
      style={{ position: 'absolute', left: 0, top: 0, width: 587, height: 1334, background: '#fff' }}
    />
  );
}
